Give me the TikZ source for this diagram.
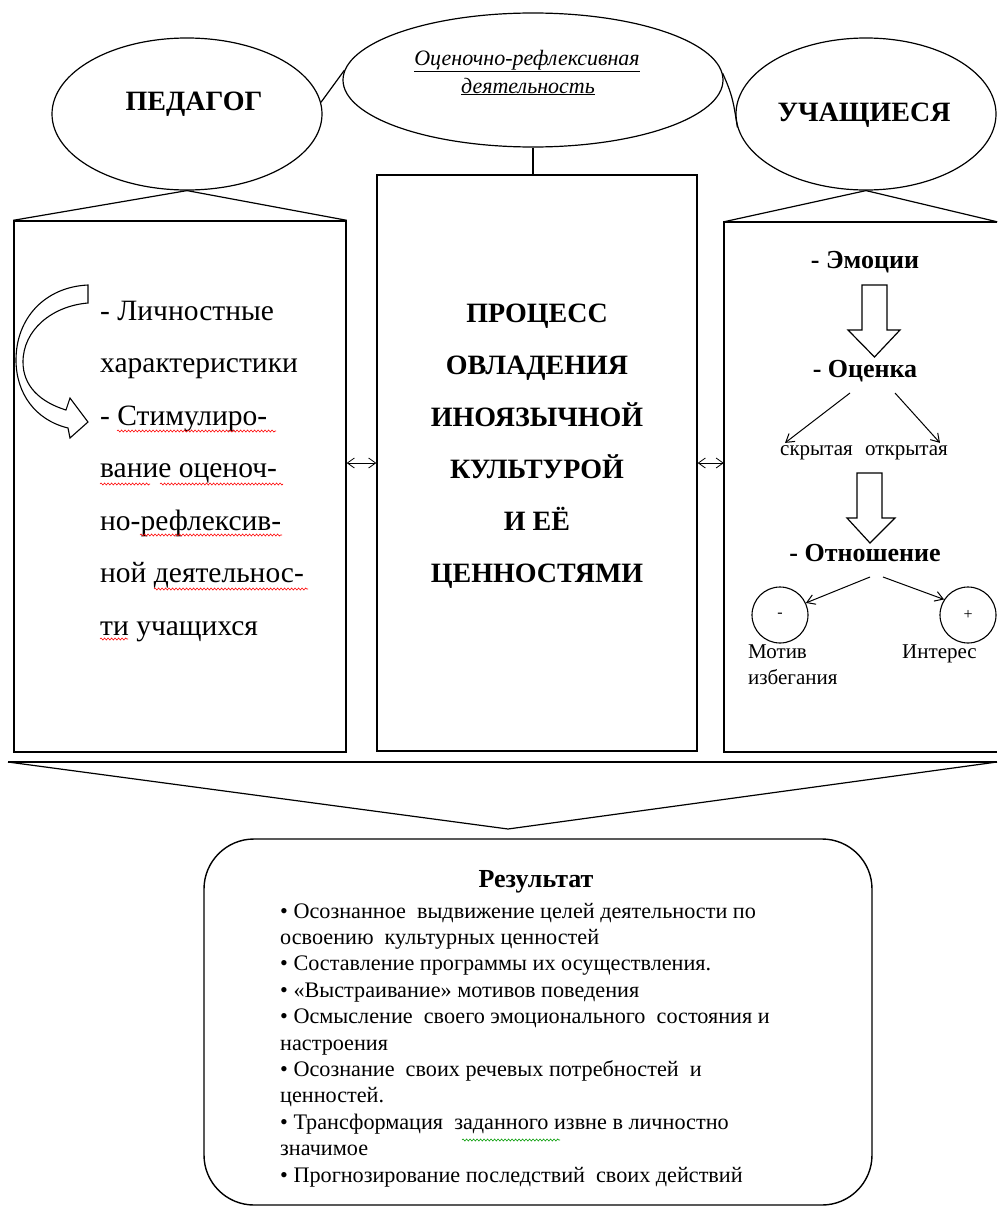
\documentclass[tikz,border=0pt]{standalone}
\usepackage{fontspec}
\setmainfont{Liberation Serif}
\usetikzlibrary{shapes.geometric,arrows.meta,decorations.pathmorphing,calc}
\begin{document}
\begin{tikzpicture}[x=1pt,y=-1pt,
  ell/.style={draw,ellipse,line width=1.2pt,inner sep=0pt},
  box/.style={draw,rectangle,line width=1.4pt,inner sep=0pt},
  conn/.style={line width=1.2pt},
  txt/.style={inner sep=0pt,anchor=base},
  ltxt/.style={inner sep=0pt,anchor=base west},
  bigb/.style={font=\fontsize{28}{30}\selectfont\bfseries},
  midb/.style={font=\fontsize{26}{28}\selectfont\bfseries},
  reg/.style={font=\fontsize{29.5}{31}\selectfont},
  small/.style={font=\fontsize{21}{23}\selectfont},
  res/.style={font=\fontsize{22.2}{24}\selectfont},
  itl/.style={font=\fontsize{22}{24}\selectfont\itshape},
  thinarr/.style={line width=1pt,-{Straight Barb[length=8pt,width=10pt]}},
  dblarr/.style={line width=0.8pt,{Straight Barb[length=7pt,width=10pt]}-{Straight Barb[length=7pt,width=10pt]}},
  blk/.style={draw,line width=1.2pt,line join=miter},
  wavy/.style={draw=#1,line width=0.6pt,decorate,decoration={snake,amplitude=1pt,segment length=3.5pt}}
]
\useasboundingbox (0,0) rectangle (997,1210);

% ellipses
\node[ell,minimum width=270pt,minimum height=152pt] (ped) at (187,114) {};
\node[ell,minimum width=380pt,minimum height=134pt] (mid) at (533,80) {};
\node[ell,minimum width=260pt,minimum height=152pt] (uch) at (866,114) {};
\node[txt,bigb] (pedt) at (194,110) {ПЕДАГОГ};
\node[txt,bigb] (ucht) at (864,121) {УЧАЩИЕСЯ};
\node[txt,itl] (m1) at (527,65) {\underline{Оценочно-рефлексивная}};
\node[txt,itl] (m2) at (528,93) {\underline{деятельность}};

\draw[conn] (ped.5) -- (mid.177);
\draw[conn] (mid.2) .. controls +(10,22) and +(-4,-25) .. (uch.186);

% boxes
\node[box,minimum width=332pt,minimum height=531pt] (lbox) at (180,486.5) {};
\node[box,minimum width=320pt,minimum height=576pt] (cbox) at (537,463) {};
\node[inner sep=0pt,minimum width=273pt,minimum height=530pt] (rbox) at (860.5,487) {};
\draw[line width=2.2pt] (rbox.north east) -| (rbox.south west) -- (rbox.south east);

\draw[conn] (mid.south) -- (mid.south |- cbox.north);
\draw[conn] (lbox.north west) -- (ped.south) -- (lbox.north east);
\draw[conn] (rbox.north west) -- (uch.south) -- (rbox.north east);

\draw[dblarr] (lbox.east |- cbox.west) -- (cbox.west);
\draw[dblarr] (cbox.east) -- (rbox.west |- cbox.east);

% centre text
\foreach \t [count=\i] in {{ПРОЦЕСС},{ОВЛАДЕНИЯ},{ИНОЯЗЫЧНОЙ},{КУЛЬТУРОЙ},{И ЕЁ},{ЦЕННОСТЯМИ}}
  \node[txt,bigb] (c\i) at ({537},{322+52*(\i-1)}) {\t};

% left text
\foreach \t [count=\i] in {{- Личностные},{характеристики},{- Стимулиро-},{вание оценоч-},{но-рефлексив-},{ной деятельнос-},{ти учащихся}}
  \node[ltxt,reg] (l\i) at ({100},{320+52.5*(\i-1)}) {\t};
\draw[wavy=red] (117,431) -- (276,431);
\draw[wavy=red] (100,484) -- (150,484);
\draw[wavy=red] (160,484) -- (283,484);
\draw[wavy=red] (140,535) -- (282,535);
\draw[wavy=red] (154,589) -- (308,589);
\draw[wavy=red] (100,639) -- (128,639);

% curved block arrow
\draw[blk,line width=1.1pt] (88,285) -- (88,303) .. controls (52,306) and (23,330) .. (23,362)
  .. controls (23,386) and (40,402) .. (66,410) -- (70,398) -- (88,422) -- (70,438) -- (68,428)
  .. controls (35,420) and (16,393) .. (16,360) .. controls (16,318) and (45,287) .. (88,285) -- cycle;

% right panel
\node[txt,midb] (emo) at (865,268) {- Эмоции};
\node[txt,midb] (ocen) at (865,377) {- Оценка};
\node[ltxt,small] (skr) at (780,455) {скрытая};
\node[ltxt,small,anchor=base east] (otk) at (948,455) {открытая};
\node[txt,midb] (otn) at (865,561) {- Отношение};
\node[circle,draw,line width=1.1pt,minimum size=56pt,inner sep=0pt,font=\fontsize{16}{16}\selectfont] (cm) at (780,615) {-};
\node[circle,draw,line width=1.1pt,minimum size=56pt,inner sep=0pt,font=\fontsize{16}{16}\selectfont] (cp) at (968,615) {+};
\node[ltxt,small] (mot1) at (748,658) {Мотив};
\node[ltxt,small] (mot2) at (748,684) {избегания};
\node[ltxt,small] (inter) at (902,658) {Интерес};

\draw[blk] (862,285) -- (887,285) -- (887,330) -- (900,330) -- (874.5,357) -- (848,330) -- (862,330) -- cycle;
\draw[blk] (857,473) -- (882,473) -- (882,518) -- (895,518) -- (870,543) -- (847,518) -- (857,518) -- cycle;

\draw[thinarr] ([xshift=-15pt,yshift=-16pt]ocen.base) -- ([xshift=5pt,yshift=2pt]skr.north west);
\draw[thinarr] ([xshift=30pt,yshift=-16pt]ocen.base) -- ([xshift=-8pt,yshift=2pt]otk.north east);
\draw[thinarr] ([xshift=5pt,yshift=-16pt]otn.base) -- (cm.25);
\draw[thinarr] ([xshift=18pt,yshift=-16pt]otn.base) -- (cp.147);

% bottom
\coordinate (bl) at (8,762);
\coordinate (br) at (997,762);
\coordinate (vt) at (508,829);
\draw[line width=2pt] (bl) -- (br);
\draw[conn] (bl) -- (vt) -- (br);

\node[draw,line width=1.4pt,rounded corners=50pt,minimum width=668pt,minimum height=366pt,inner sep=0pt] (result) at (538,1022) {};
\node[txt,midb] (rt) at (536,887) {Результат};
\foreach \t [count=\i] in {{• Осознанное\ \ выдвижение целей деятельности по},{освоению\ \ культурных ценностей},{• Составление программы их осуществления.},{• «Выстраивание» мотивов поведения},{• Осмысление\ \ своего эмоционального\ \ состояния и},{настроения},{• Осознание\ \ своих речевых потребностей\ \ и},{ценностей.},{• Трансформация\ \ заданного извне в личностно},{значимое},{• Прогнозирование последствий\ \ своих действий}}
  \node[ltxt,res] (r\i) at ({280},{918+26.4*(\i-1)}) {\t};
\draw[wavy=green!60!black] (462,1140) -- (560,1140);
\end{tikzpicture}
\end{document}
